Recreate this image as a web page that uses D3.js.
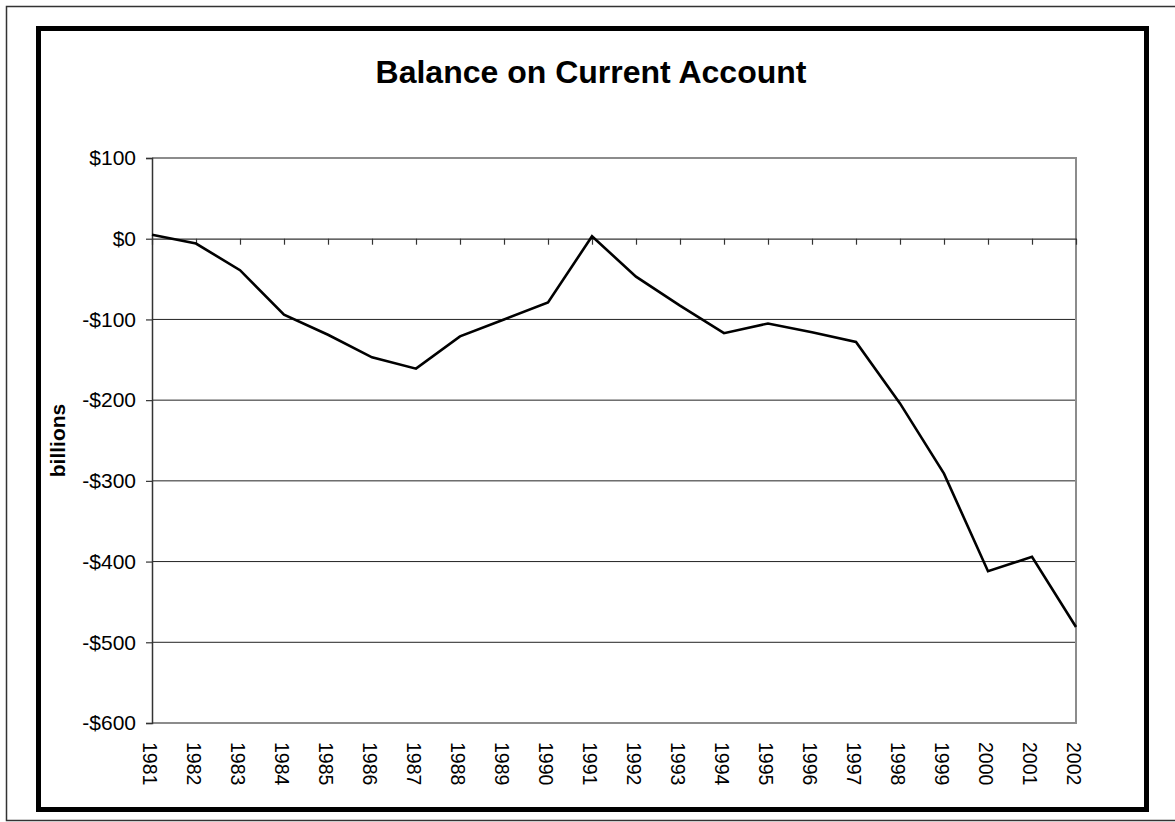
<!DOCTYPE html>
<html>
<head>
<meta charset="utf-8">
<script src="https://cdn.jsdelivr.net/npm/d3@7"></script>
<style>
  body { margin: 0; background: #fff; }
  text { font-family: Arial, "Liberation Sans", sans-serif; fill: #000; }
</style>
</head>
<body>
<svg width="1175" height="822"></svg>
<script>
// values (billions of dollars)
const years = ["1981", "1982", "1983", "1984", "1985", "1986", "1987", "1988", "1989", "1990", "1991",
               "1992", "1993", "1994", "1995", "1996", "1997", "1998", "1999", "2000", "2001", "2002"];
const balance = [5, -6, -39, -94, -119, -147, -161, -121, -100, -79, 3,
                 -47, -83, -117, -105, -116, -128, -204, -291, -412, -394, -481];
const yTicks = [100, 0, -100, -200, -300, -400, -500, -600];

let svg = d3.select("svg"),
    width = +svg.attr("width"),
    height = +svg.attr("height");

let margin = { left: 152, right: 1076, top: 158, bottom: 723 };

// frames
svg.append("rect")
    .attr("x", 6.5).attr("y", 6.5)
    .attr("width", 1180).attr("height", 814)
    .attr("fill", "none")
    .attr("stroke", "#333")
    .attr("stroke-width", 1.5);

svg.append("rect")
    .attr("x", 38.5).attr("y", 28.5)
    .attr("width", 1108).attr("height", 781)
    .attr("fill", "none")
    .attr("stroke", "#000")
    .attr("stroke-width", 5);

let x = d3.scalePoint()
    .domain(years)
    .range([margin.left, margin.right]);

let y = d3.scaleLinear()
    .domain([-600, 100])
    .range([margin.bottom, margin.top]);

// gridlines
svg.append("g")
    .attr("class", "grid")
    .selectAll("line")
    .data(yTicks.filter(d => d > -600 && d < 100 && d !== 0))
    .enter().append("line")
    .attr("x1", margin.left).attr("x2", margin.right)
    .attr("y1", d => y(d)).attr("y2", d => y(d))
    .attr("stroke", "#222")
    .attr("stroke-width", 1);

// plot area border (top, right, bottom)
svg.append("path")
    .attr("d", `M${margin.left},${y(100)}H${margin.right}V${y(-600)}H${margin.left}`)
    .attr("fill", "none")
    .attr("stroke", "#8c8c8c")
    .attr("stroke-width", 2);

// y axis
let yAxis = svg.append("g")
    .attr("transform", `translate(${margin.left},0)`)
    .call(d3.axisLeft(y)
        .tickValues(yTicks)
        .tickSize(6)
        .tickPadding(10)
        .tickFormat(d => (d < 0 ? "-$" : "$") + Math.abs(d)));

yAxis.select(".domain").attr("stroke", "#333").attr("stroke-width", 1.5);
yAxis.selectAll(".tick line").attr("stroke", "#333").attr("stroke-width", 1.2);
yAxis.selectAll("text")
    .attr("font-size", 21)
    .attr("font-family", "Arial, 'Liberation Sans', sans-serif")
    .attr("fill", "#000");

// x axis along zero
let xAxis = svg.append("g")
    .attr("transform", `translate(0,${y(0)})`)
    .call(d3.axisBottom(x).tickSize(6).tickSizeOuter(0).tickFormat(""));

xAxis.select(".domain").attr("stroke", "#333").attr("stroke-width", 1.2);
xAxis.selectAll(".tick line").attr("stroke", "#333").attr("stroke-width", 1.2);

// category labels under the plot, rotated
svg.append("g")
    .attr("class", "xlabels")
    .selectAll("text")
    .data(years)
    .enter().append("text")
    .attr("transform", d => `translate(${x(d) - 2},${margin.bottom + 19}) rotate(90)`)
    .attr("dy", "0.35em")
    .attr("font-size", 19.5)
    .text(d => d);

// series line
let line = d3.line()
    .x((d, i) => x(years[i]))
    .y(d => y(d));

svg.append("path")
    .datum(balance)
    .attr("fill", "none")
    .attr("stroke", "#000")
    .attr("stroke-width", 2.6)
    .attr("stroke-linejoin", "miter")
    .attr("d", line);

// title
svg.append("text")
    .attr("x", 591)
    .attr("y", 83)
    .attr("text-anchor", "middle")
    .attr("font-size", 32)
    .attr("font-weight", "bold")
    .text("Balance on Current Account");

// y axis title
svg.append("text")
    .attr("transform", `translate(65,${(margin.top + margin.bottom) / 2}) rotate(-90)`)
    .attr("text-anchor", "middle")
    .attr("font-size", 21)
    .attr("font-weight", "bold")
    .text("billions");
</script>
</body>
</html>
